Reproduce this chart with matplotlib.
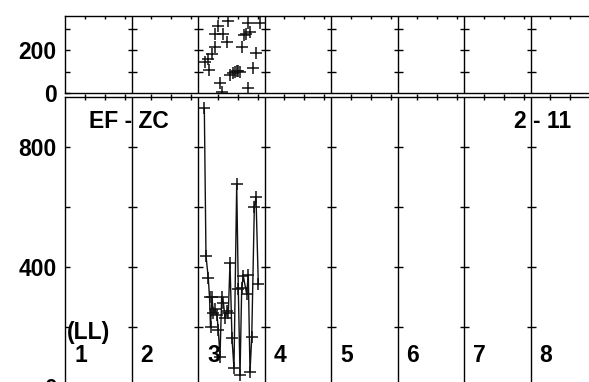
import matplotlib
matplotlib.use("Agg")
import matplotlib.pyplot as plt

plt.rcParams['font.family'] = ['Liberation Sans', 'DejaVu Sans']
plt.rcParams['font.weight'] = 'bold'

# ---- data ----
columns = ['1', '2', '3', '4', '5', '6', '7', '8']
dir_x = [2.105, 2.155, 2.165, 2.206, 2.256, 2.263, 2.301, 2.331, 2.356, 2.383,
         2.432, 2.456, 2.481, 2.526, 2.556, 2.579, 2.602, 2.632, 2.662, 2.692,
         2.722, 2.756, 2.759, 2.782, 2.832, 2.872, 2.925]
dir_y = [144, 159, 107, 181, 216, 276, 311, 46, 7, 274,
         237, 337, 84, 93, 100, 102, 105, 100, 215, 270,
         274, 327, 22, 285, 115, 185, 327]
val_x = [2.095, 2.120, 2.155, 2.173, 2.188, 2.211, 2.230, 2.256, 2.286, 2.305,
         2.331, 2.356, 2.383, 2.406, 2.432, 2.456, 2.481, 2.511, 2.541, 2.582,
         2.606, 2.632, 2.657, 2.681, 2.732, 2.756, 2.782, 2.808, 2.847, 2.872,
         2.907]
val_y = [930, 438, 362, 300, 200, 300, 246, 260, 240, 190,
         101, 300, 280, 230, 255, 246, 414, 163, 62, 677,
         326, 40, 330, 370, 310, 375, 51, 166, 599, 632,
         342]
top_ticks = [0, 100, 200, 300]
top_labels = ['0', '', '200', '']
bot_ticks = [0, 200, 400, 600, 800]
bot_labels = ['0', '', '400', '', '800']
title_left = 'EF - ZC'
title_right = '2 - 11'
unit_label = '(LL)'

W, H = 589, 382
fig = plt.figure(figsize=(W / 100, H / 100), dpi=100)

def pos(l, t, r, b):
    return [l / W, 1 - b / H, (r - l) / W, (b - t) / H]

left_px, colw = 65, 66.5
ncol = len(columns)
right_px = left_px + ncol * colw

ax1 = fig.add_axes(pos(left_px, 16, right_px, 93))
ax2 = fig.add_axes(pos(left_px, 97, right_px, 387))

PT = 0.72  # points per pixel
FS = 16.5
minor_x = [i + f for i in range(ncol) for f in (0.3, 0.6, 0.9)]

for ax in (ax1, ax2):
    ax.set_xlim(0, ncol)
    ax.spines['right'].set_visible(False)
    for s in ax.spines.values():
        s.set_linewidth(1.0)
        s.set_color('black')
    ax.set_xticks([])
    ax.set_xticks(minor_x, minor=True)
    for i in range(1, ncol):
        ax.axvline(i, color='black', lw=1.0, zorder=1)

ax1.set_ylim(0, 360)
ax2.set_ylim(0, 967)

ax1.set_yticks(top_ticks)
ax1.set_yticklabels(top_labels)
ax1.tick_params(axis='y', direction='in', length=5 * PT, width=1, pad=6, labelsize=FS)
ax1.tick_params(axis='x', which='minor', direction='in', length=3 * PT, width=1,
                top=True, bottom=False)
ax2.set_yticks(bot_ticks)
ax2.set_yticklabels(bot_labels)
ax2.tick_params(axis='y', direction='in', length=5 * PT, width=1, pad=6, labelsize=FS)
ax2.tick_params(axis='x', which='minor', direction='inout', length=6 * PT, width=1,
                top=True, bottom=True)
for lab in ax1.get_yticklabels() + ax2.get_yticklabels():
    lab.set_fontweight('bold')

# ticks across the column dividers
for i in range(1, ncol + 1):
    for v in top_ticks[1:]:
        ax1.plot([i], [v], marker='_', ms=9 * PT, mew=1, color='black', clip_on=False, zorder=2)
    for v in bot_ticks[1:]:
        ax2.plot([i], [v], marker='_', ms=9 * PT, mew=1, color='black', clip_on=False, zorder=2)

# data
ax1.plot(dir_x, dir_y, linestyle='none', marker='+', ms=12 * PT, mew=1.1,
         color='#111111', zorder=3)
ax2.plot(val_x, val_y, linestyle='-', lw=1.0, marker='+', ms=12 * PT, mew=1.1,
         color='#111111', zorder=3)

# texts
for i, c in enumerate(columns):
    fig.text((left_px + i * colw + 9) / W, 1 - 355 / H, c, ha='left', va='center',
             fontsize=FS, fontweight='bold')
fig.text(67 / W, 1 - 332 / H, unit_label, ha='left', va='center', fontsize=FS, fontweight='bold')
fig.text(89 / W, 1 - 122 / H, title_left, ha='left', va='center', fontsize=FS, fontweight='bold')
fig.text(514 / W, 1 - 121 / H, title_right, ha='left', va='center', fontsize=FS, fontweight='bold')

fig.savefig('out.png', dpi=100)
